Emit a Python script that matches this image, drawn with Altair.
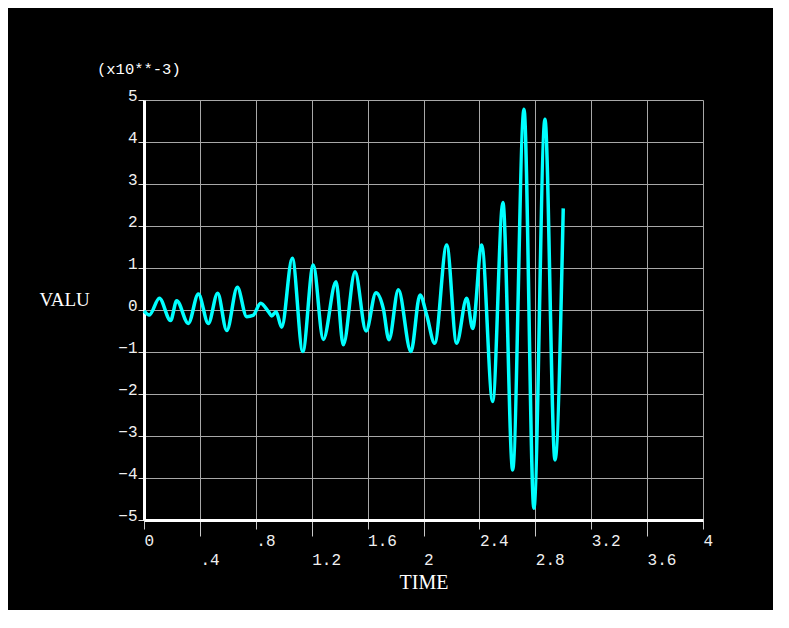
import altair as alt
import pandas as pd

# Time (s) and value (x10^-3)
time = [0.000, 0.038, 0.110, 0.190, 0.234, 0.317, 0.389, 0.460, 0.527, 0.592,
        0.668, 0.735, 0.780, 0.835, 0.890, 0.914, 0.945, 0.985, 1.061, 1.136,
        1.211, 1.283, 1.374, 1.426, 1.510, 1.589, 1.660, 1.712, 1.753, 1.820,
        1.910, 1.975, 2.023, 2.080, 2.166, 2.237, 2.309, 2.352, 2.416, 2.495,
        2.568, 2.638, 2.719, 2.790, 2.869, 2.941, 3.000]
value = [-0.02, -0.12, 0.28, -0.25, 0.22, -0.32, 0.38, -0.32, 0.40, -0.49,
         0.54, -0.16, -0.13, 0.16, -0.04, -0.14, -0.04, -0.41, 1.23, -0.99,
         1.07, -0.70, 0.67, -0.83, 0.91, -0.50, 0.41, 0.04, -0.71, 0.48,
         -0.99, 0.36, -0.12, -0.79, 1.55, -0.79, 0.28, -0.44, 1.55, -2.18,
         2.56, -3.81, 4.78, -4.72, 4.54, -3.57, 2.42]

x_ticks = [0, 0.4, 0.8, 1.2, 1.6, 2, 2.4, 2.8, 3.2, 3.6, 4]
x_labels = ["0", ".4", ".8", "1.2", "1.6", "2", "2.4", "2.8", "3.2", "3.6", "4"]
y_ticks = [-5, -4, -3, -2, -1, 0, 1, 2, 3, 4, 5]

df = pd.DataFrame({"TIME": time, "VALU": value})

FONT = "Liberation Mono"
TFONT = "Liberation Serif"
label_arr = "[" + ",".join("'%s'" % s for s in x_labels) + "]"
idx = "round(datum.value / 0.4)"
x_label_expr = f"{label_arr}[{idx}]"
second_row = f"{idx} % 2 == 1"

chart = alt.Chart(df).mark_line(
    color="#00ffff", strokeWidth=3.5, interpolate="monotone"
).encode(
    x=alt.X("TIME:Q",
            scale=alt.Scale(domain=[0, 4], nice=False, zero=False),
            axis=alt.Axis(values=x_ticks, labelExpr=x_label_expr,
                          labelAlign="left", labelBaseline="top",
                          labelPadding={"condition": {"test": second_row, "value": 15}, "value": 3},
                          tickSize={"condition": {"test": second_row, "value": 16}, "value": 9},
                          tickColor="#c8c8c8", tickWidth=1,
                          title="TIME", titleFont=TFONT, titleFontSize=20,
                          titleFontWeight="normal", titleColor="#ffffff",
                          titleBaseline="top", titleY=52, titleX=279.5,
                          titleAlign="center")),
    y=alt.Y("VALU:Q",
            scale=alt.Scale(domain=[-5, 5], nice=False, zero=False),
            axis=alt.Axis(values=y_ticks, format="d",
                          labelAlign="right", labelBaseline="alphabetic",
                          labelPadding=1, tickSize=6,
                          tickColor="#e0e0e0", tickWidth=1,
                          title="VALU", titleFont=TFONT, titleFontSize=19,
                          titleFontWeight="normal", titleColor="#ffffff",
                          titleAngle=0, titleAlign="left",
                          titleBaseline="alphabetic", titleX=-105, titleY=205)),
).properties(
    width=559,
    height=420,
    autosize=alt.AutoSizeParams(type="none"),
    padding={"left": 136, "top": 92, "right": 70, "bottom": 90},
    background="#000000",
    title=alt.TitleParams("(x10**-3)", anchor="start", frame="group", dx=-47,
                          dy=15, offset=13, font=FONT, fontSize=15.5,
                          fontWeight="normal", color="#ffffff",
                          baseline="alphabetic"),
).configure_view(
    stroke=None
).configure_axis(
    labelFont=FONT, labelFontSize=16, labelColor="#f0f0f0",
    domainColor="#ffffff", domainWidth=3,
    gridColor="#a8a8a8", gridWidth=1, gridOpacity=1,
    labelOverlap=False, labelFlush=False,
)

chart.save("out.html", embed_options={"renderer": "svg", "actions": False})
